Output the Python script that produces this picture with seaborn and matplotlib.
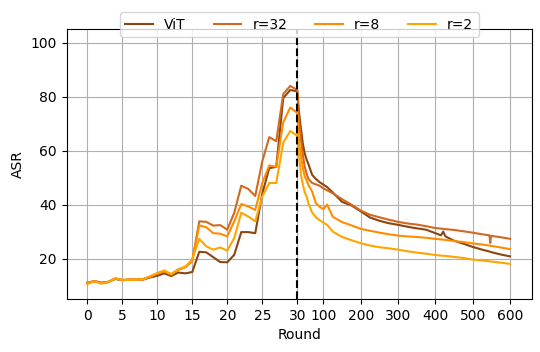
import numpy as np
import pandas as pd
import matplotlib
matplotlib.use("Agg")
import matplotlib.pyplot as plt
import seaborn as sns

# rounds 0..30 are drawn on a linear axis, the rest is squeezed
early_rounds = list(range(31))
late_rounds = [35, 40, 45, 50, 55, 60, 70, 80, 90, 100, 110, 125, 150, 175, 200,
               225, 250, 275, 300, 325, 350, 375, 400, 415, 421, 427, 450, 475,
               500, 525, 545, 547, 549, 575, 600]

vit_early = [11.0, 11.6, 11.0, 11.3, 12.4, 12.0, 12.1, 12.1, 12.2, 13.0, 13.6,
             14.5, 13.5, 14.8, 14.5, 15.0, 22.5, 22.3, 20.5, 18.7, 18.6, 21.4,
             29.8, 29.8, 29.4, 44.0, 53.5, 54.0, 79.5, 82.5, 82.0]
r32_early = [10.8, 11.7, 11.0, 11.4, 12.6, 12.1, 12.2, 12.2, 12.4, 13.3, 14.3,
             15.2, 14.0, 15.8, 16.8, 19.0, 33.8, 33.6, 32.2, 32.4, 30.7, 37.0,
             47.0, 45.8, 43.2, 56.0, 65.0, 63.5, 81.0, 84.0, 82.5]
r8_early = [10.7, 11.6, 10.8, 11.3, 12.6, 12.0, 12.2, 12.2, 12.4, 13.4, 14.5,
            15.3, 14.1, 16.0, 16.8, 19.3, 32.3, 31.6, 29.4, 29.2, 28.2, 33.8,
            40.2, 39.3, 38.0, 48.0, 54.5, 54.0, 70.5, 76.0, 74.0]
r2_early = [10.6, 11.5, 10.7, 11.2, 12.7, 12.0, 12.1, 12.1, 12.3, 13.4, 14.6,
            15.6, 14.2, 16.0, 17.0, 19.6, 27.3, 24.5, 23.3, 24.1, 22.9, 27.6,
            37.0, 35.6, 33.8, 43.0, 48.0, 48.0, 63.0, 67.3, 65.5]

vit_late = [74.0, 68.0, 62.5, 59.0, 56.7, 55.0, 51.0, 49.5, 48.3, 47.4, 46.5,
            44.5, 41.0, 39.7, 37.5, 35.2, 34.0, 33.1, 32.5, 31.8, 31.2, 30.7,
            29.4, 28.6, 30.0, 28.2, 26.6, 25.5, 24.3, 23.3, 22.6, 22.5, 22.4,
            21.5, 20.8]
r32_late = [71.0, 64.0, 58.5, 54.0, 51.5, 49.5, 48.0, 47.5, 47.0, 46.0, 45.3,
            44.2, 42.0, 40.0, 37.8, 36.2, 35.3, 34.4, 33.6, 33.0, 32.6, 32.0,
            31.3, 31.1, 31.0, 30.9, 30.6, 30.1, 29.6, 29.0, 28.6, 25.8, 28.4,
            27.9, 27.3]
r8_late = [63.0, 58.0, 53.5, 50.5, 49.0, 47.3, 44.8, 40.5, 39.2, 38.3, 40.0,
           35.5, 33.5, 32.3, 31.0, 30.3, 29.6, 29.0, 28.5, 28.2, 28.0, 27.7,
           27.3, 27.1, 27.0, 26.9, 26.5, 26.1, 25.6, 25.2, 24.8, 24.7, 24.7,
           24.1, 23.5]
r2_late = [58.0, 51.0, 47.5, 44.5, 43.0, 40.5, 37.0, 35.3, 34.2, 33.3, 32.5,
           30.0, 28.0, 26.8, 25.7, 24.8, 24.2, 23.8, 23.3, 22.7, 22.2, 21.8,
           21.3, 21.1, 21.0, 21.0, 20.6, 20.2, 19.6, 19.3, 19.0, 18.9, 18.9,
           18.5, 18.0]

labels = ["ViT", "r=32", "r=8", "r=2"]
colors = ["#8B4513", "#D2691E", "#FF8C00", "#FFA500"]
series = {
    "ViT": vit_early + vit_late,
    "r=32": r32_early + r32_late,
    "r=8": r8_early + r8_late,
    "r=2": r2_early + r2_late,
}
rounds = early_rounds + late_rounds

frames = []
for name in labels:
    frames.append(pd.DataFrame({"Round": rounds, "ASR": series[name], "model": name}))
df = pd.concat(frames, ignore_index=True)

K = 1 / 18.75  # compression of rounds after 30


def fwd(x):
    x = np.asarray(x, dtype=float)
    return np.where(x <= 30, x, 30 + (x - 30) * K)


def inv(y):
    y = np.asarray(y, dtype=float)
    return np.where(y <= 30, y, 30 + (y - 30) / K)


fig = plt.figure(figsize=(5.4, 3.52), dpi=100)
ax = fig.add_axes([0.1235, 0.1506, 0.8611, 0.7662])

sns.lineplot(data=df, x="Round", y="ASR", hue="model", hue_order=labels,
             palette=dict(zip(labels, colors)), linewidth=1.5, ax=ax)
ax.set_xscale("function", functions=(fwd, inv))
ax.axvline(30, color="black", linestyle="--", linewidth=1.5)

ax.set_xticks([0, 5, 10, 15, 20, 25, 30, 100, 200, 300, 400, 500, 600])
ax.set_xticklabels(["0", "5", "10", "15", "20", "25", "30", "100", "200",
                    "300", "400", "500", "600"])
ax.set_xlim(-2.94, 658)
ax.set_yticks([20, 40, 60, 80, 100])
ax.set_ylim(5, 105)
ax.grid(True, color="#b0b0b0", linewidth=0.8)
ax.set_axisbelow(True)
ax.set_xlabel("Round")
ax.set_ylabel("ASR")

sns.move_legend(ax, "upper center", bbox_to_anchor=(0.5, 1.09), ncol=4,
                title=None, frameon=True)

fig.savefig("out.png", dpi=100)
